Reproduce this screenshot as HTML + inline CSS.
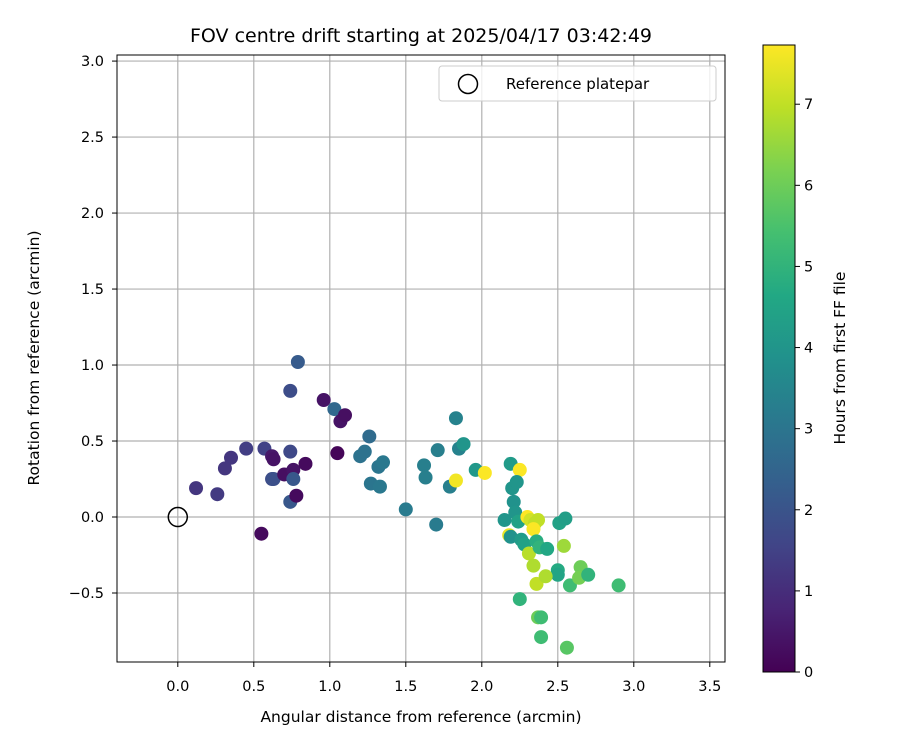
<!DOCTYPE html>
<html><head><meta charset="utf-8"><style>
body{margin:0;background:#fff}
svg{font-family:"DejaVu Sans","Liberation Sans",sans-serif}
</style></head><body>
<svg id="chart" width="900" height="750">
<defs><linearGradient id="vir" x1="0" y1="1" x2="0" y2="0">
<stop offset="0" stop-color="#440154"/><stop offset="0.1" stop-color="#482475"/><stop offset="0.2" stop-color="#414487"/><stop offset="0.3" stop-color="#355f8d"/><stop offset="0.4" stop-color="#2a788e"/><stop offset="0.5" stop-color="#21918c"/><stop offset="0.6" stop-color="#22a884"/><stop offset="0.7" stop-color="#44bf70"/><stop offset="0.8" stop-color="#7ad151"/><stop offset="0.9" stop-color="#bddf26"/><stop offset="1" stop-color="#fde725"/></linearGradient></defs>
<rect x="0" y="0" width="900" height="750" fill="#fff"/>
<g id="grid"></g><g id="pts"></g><g id="axes"></g>
</svg>
<script>
const xs=[0.12,0.26,0.31,0.35,0.45,0.57,0.62,0.63,0.62,0.63,0.55,0.70,0.74,0.76,0.76,0.74,0.78,0.84,0.74,0.79,0.96,1.03,1.07,1.10,1.05,1.20,1.23,1.26,1.27,1.32,1.35,1.33,1.50,1.62,1.63,1.70,1.71,1.79,1.83,1.85,1.88,1.83,1.96,2.02,2.19,2.25,2.20,2.23,2.21,2.15,2.22,2.24,2.18,2.19,2.26,2.28,2.30,2.32,2.35,2.37,2.34,2.36,2.31,2.34,2.38,2.43,2.50,2.50,2.54,2.51,2.55,2.36,2.42,2.25,2.37,2.39,2.39,2.58,2.65,2.64,2.70,2.90,2.56];
const ys=[0.19,0.15,0.32,0.39,0.45,0.45,0.40,0.38,0.25,0.25,-0.11,0.28,0.43,0.31,0.25,0.10,0.14,0.35,0.83,1.02,0.77,0.71,0.63,0.67,0.42,0.40,0.43,0.53,0.22,0.33,0.36,0.20,0.05,0.34,0.26,-0.05,0.44,0.20,0.65,0.45,0.48,0.24,0.31,0.29,0.35,0.31,0.19,0.23,0.10,-0.02,0.03,-0.03,-0.12,-0.13,-0.15,-0.18,0.0,-0.02,-0.04,-0.02,-0.08,-0.16,-0.24,-0.32,-0.20,-0.21,-0.35,-0.38,-0.19,-0.04,-0.01,-0.44,-0.39,-0.54,-0.66,-0.66,-0.79,-0.45,-0.33,-0.40,-0.38,-0.45,-0.86];
const hours=[1.2,1.3,1.2,1.2,1.4,1.5,0.5,0.4,1.8,1.9,0.2,0.3,1.7,0.4,2.1,2.1,0.2,0.2,1.8,2.2,0.4,2.6,0.4,0.3,0.1,2.9,2.9,2.7,3.0,3.0,3.1,3.1,3.2,3.3,3.3,3.2,3.3,3.3,3.4,3.4,4.0,7.6,4.1,7.7,4.2,7.7,4.0,4.0,3.9,4.0,4.0,4.4,7.5,3.9,4.2,4.4,7.8,7.2,7.0,7.0,7.7,4.8,6.9,6.8,5.0,4.6,4.7,4.5,6.6,4.4,4.3,7.0,6.8,5.0,6.0,5.3,5.3,5.3,6.0,6.1,5.0,5.3,5.7];
const xTicks=["0.0","0.5","1.0","1.5","2.0","2.5","3.0","3.5"];
const yTicks=["−0.5","0.0","0.5","1.0","1.5","2.0","2.5","3.0"];
const yTickVals=[-0.5,0,0.5,1,1.5,2,2.5,3];
const cTicks=[0,1,2,3,4,5,6,7];
const X0=117,X1=725,Y0=55,Y1=662,xmin=-0.4,xmax=3.6,ymin=-0.954,ymax=3.04,cmax=7.73;
const sx=v=>X0+(v-xmin)/(xmax-xmin)*(X1-X0);
const sy=v=>Y1-(v-ymin)/(ymax-ymin)*(Y1-Y0);
const stops=["#440154","#482475","#414487","#355f8d","#2a788e","#21918c","#22a884","#44bf70","#7ad151","#bddf26","#fde725"];
function hx(c){return [1,3,5].map(i=>parseInt(c.substr(i,2),16));}
function vir(t){t=Math.max(0,Math.min(1,t))*10;const i=Math.min(9,Math.floor(t)),f=t-i;const a=hx(stops[i]),b=hx(stops[i+1]);return "rgb("+a.map((v,k)=>Math.round(v+(b[k]-v)*f)).join(",")+")";}
const NS="http://www.w3.org/2000/svg";
function mk(tag,at,par,txt){const e=document.createElementNS(NS,tag);for(const k in at)e.setAttribute(k,at[k]);if(txt!==undefined)e.textContent=txt;par.appendChild(e);return e;}
const G=document.getElementById("grid"),P=document.getElementById("pts"),A=document.getElementById("axes");
xTicks.forEach((t)=>{const v=parseFloat(t);const x=sx(v);
 const l=mk("line",{x1:x,x2:x,y1:Y0,y2:Y1,stroke:"#b0b0b0","stroke-width":1.2},G);
 
 
 mk("line",{x1:x,x2:x,y1:Y1,y2:Y1+5,stroke:"#000"},A);
 const tx=mk("text",{x:x,y:Y1+29,"text-anchor":"middle","font-size":14.5},A,t);
 
 });
yTicks.forEach((t,i)=>{const y=sy(yTickVals[i]);
 const l=mk("line",{x1:X0,x2:X1,y1:y,y2:y,stroke:"#b0b0b0","stroke-width":1.2},G);
 
 
 mk("line",{x1:X0-5,x2:X0,y1:y,y2:y,stroke:"#000"},A);
 const tx=mk("text",{x:X0-13,y:y+5,"text-anchor":"end","font-size":14.5},A,t);
 
 });
xs.forEach((x,i)=>{const c=mk("circle",{cx:sx(x),cy:sy(ys[i]),r:7,fill:vir(hours[i]/cmax)},P);
 
 });
const ref=mk("circle",{cx:sx(0),cy:sy(0),r:9.5,fill:"none",stroke:"#000","stroke-width":1.5},P);


const fr=mk("rect",{x:X0,y:Y0,width:X1-X0,height:Y1-Y0,fill:"none",stroke:"#000","stroke-width":1},A);


const lg=mk("g",{},A);


mk("rect",{x:439,y:66,width:277,height:35,rx:3,fill:"#fff","fill-opacity":0.8,stroke:"#ccc"},lg);
mk("circle",{cx:468,cy:84,r:9.5,fill:"none",stroke:"#000","stroke-width":1.5},lg);
mk("text",{x:506,y:89,"font-size":15},lg,"Reference platepar");
const ti=mk("text",{x:421,y:42,"text-anchor":"middle","font-size":19},A,"FOV centre drift starting at 2025/04/17 03:42:49");


const xl=mk("text",{x:421,y:722,"text-anchor":"middle","font-size":15.5},A,"Angular distance from reference (arcmin)");


const yl=mk("text",{x:0,y:0,"text-anchor":"middle","font-size":15.5,transform:"translate(39,358) rotate(-90)"},A,"Rotation from reference (arcmin)");


const CX=763,CW=32,CY0=45,CY1=672;
const cb=mk("rect",{x:CX,y:CY0,width:CW,height:CY1-CY0,fill:"url(#vir)",stroke:"#000"},A);


cTicks.forEach(v=>{const y=CY1-v/cmax*(CY1-CY0);
 mk("line",{x1:CX+CW,x2:CX+CW+5,y1:y,y2:y,stroke:"#000"},A);
 const tx=mk("text",{x:CX+CW+9,y:y+5,"font-size":14.5},A,String(v));
 
 });
const cl=mk("text",{x:0,y:0,"text-anchor":"middle","font-size":15.5,transform:"translate(845,358) rotate(-90)"},A,"Hours from first FF file");


</script>
</body></html>
